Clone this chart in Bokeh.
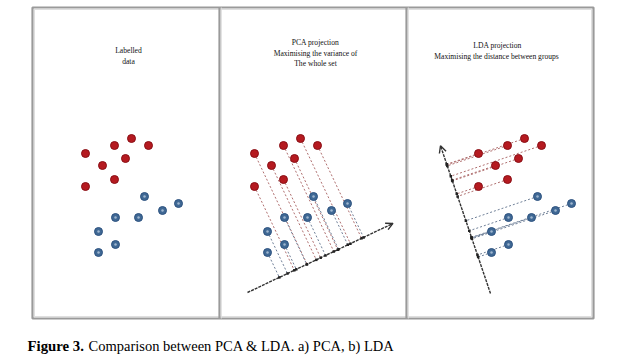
import numpy as np
from bokeh.plotting import figure
from bokeh.models import Range1d, Arrow, OpenHead
from bokeh.core.properties import value
from bokeh.embed import file_html
from bokeh.resources import INLINE

# Two labelled groups of samples (feature 1, feature 2)
red_x = [0.5, 3.4, 5.1, 6.8, 2.2, 4.5, 3.4, 0.5]
red_y = [10.7, 11.5, 12.2, 11.5, 9.5, 10.2, 8.1, 7.4]
blue_x = [6.4, 9.8, 8.2, 5.8, 3.5, 1.8, 3.5, 1.8]
blue_y = [6.4, 5.7, 5.0, 4.3, 4.3, 2.9, 1.6, 0.8]

# Projection directions (degrees) and axis anchors / lengths
pca_angle = 25.4
pca_origin = (-0.2, -3.2)
pca_length = 16.1
lda_angle = 108.7
lda_origin = (1.7, -3.3)
lda_length = 15.6

panel_titles = [
    ["Labelled", "data"],
    ["PCA projection", "Maximising the variance of", "The whole set"],
    ["LDA projection", "Maximising  the distance between groups"],
]
caption_bold = "Figure 3."
caption_rest = "Comparison between PCA & LDA. a) PCA, b) LDA"

W, H = 632, 358
SERIF = value("Liberation Serif")

p = figure(width=W, height=H, output_backend="svg", toolbar_location=None,
           x_range=Range1d(0, W / 10), y_range=Range1d(26.0 - H / 10, 26.0),
           min_border=0, background_fill_color="white",
           border_fill_color="white")
p.axis.visible = False
p.grid.visible = False
p.outline_line_color = None


def fx(px):
    return px / 10.0


def fy(py):
    return 26.0 - py / 10.0


# panel placement: left edges in px and horizontal data offsets
panel_left = [32, 219, 406]
panel_right = 593
frame_top, frame_bottom = 7, 318
offsets = [8.0, 24.9, 47.3]
title_cx = [128, 315, 497]
title_top = [50, 42, 45]

# frame and dividers
for lw, col, inset in [(2.2, "#9a9a9a", 0), (1.0, "#d8d8d8", 1.8)]:
    p.quad(left=fx(panel_left[0] + inset), right=fx(panel_right - inset),
           top=fy(frame_top + inset), bottom=fy(frame_bottom - inset),
           fill_color=None, line_color=col, line_width=lw)
for xd in panel_left[1:]:
    p.segment(x0=fx(xd), x1=fx(xd), y0=fy(frame_top), y1=fy(frame_bottom),
              line_color="#9a9a9a", line_width=2.2)
    p.segment(x0=fx(xd + 1.8), x1=fx(xd + 1.8), y0=fy(frame_top), y1=fy(frame_bottom),
              line_color="#dcdcdc", line_width=1)

# titles inside panels
for i, lines in enumerate(panel_titles):
    ys = [fy(title_top[i] + k * 10.5) for k in range(len(lines))]
    p.text(x=[fx(title_cx[i])] * len(lines), y=ys, text=lines,
           text_font=SERIF, text_font_size="7.6px", text_color="#111111",
           text_align="center", text_baseline="middle")

rx, ry = np.array(red_x), np.array(red_y)
bx, by = np.array(blue_x), np.array(blue_y)


def project(xs, ys, origin, angle):
    u = np.array([np.cos(np.radians(angle)), np.sin(np.radians(angle))])
    t = (xs - origin[0]) * u[0] + (ys - origin[1]) * u[1]
    return origin[0] + t * u[0], origin[1] + t * u[1]


def draw_axis(off, origin, angle, length):
    u = np.array([np.cos(np.radians(angle)), np.sin(np.radians(angle))])
    x0, y0 = origin[0] + off, origin[1]
    x1, y1 = x0 + length * u[0], y0 + length * u[1]
    p.segment(x0=x0, y0=y0, x1=x1, y1=y1, line_color="#333333",
              line_width=1.4, line_dash="3 1")
    p.add_layout(Arrow(end=OpenHead(size=7, line_color="#333333", line_width=1.4),
                       x_start=x1 - 0.3 * u[0], y_start=y1 - 0.3 * u[1],
                       x_end=x1, y_end=y1, line_color="#333333", line_width=1.4))


def draw_projections(off, origin, angle):
    for xs, ys, col in [(rx, ry, "#b07070"), (bx, by, "#708098")]:
        fxs, fys = project(xs, ys, origin, angle)
        p.segment(x0=xs + off, y0=ys, x1=fxs + off, y1=fys, line_color=col,
                  line_width=1, line_dash="2 2")
        p.scatter(x=fxs + off, y=fys, marker="square", size=2.5,
                  fill_color="#222222", line_color=None)


draw_axis(offsets[1], pca_origin, pca_angle, pca_length)
draw_projections(offsets[1], pca_origin, pca_angle)
draw_axis(offsets[2], lda_origin, lda_angle, lda_length)
draw_projections(offsets[2], lda_origin, lda_angle)

# the labelled samples in each panel
for off in offsets:
    p.scatter(x=rx + off, y=ry, size=8, fill_color="#b51a20",
              line_color="#8a1016", line_width=1)
    p.scatter(x=bx + off, y=by, size=8, fill_color="#3f6894",
              line_color="#2e5380", line_width=1)
    p.scatter(x=bx + off, y=by, size=2.5, fill_color="#9fb6cf", line_color=None)

# caption
p.text(x=[fx(27)], y=[fy(345)], text=[caption_bold], text_font=SERIF,
       text_font_style="bold", text_font_size="14.8px", text_color="black",
       text_baseline="alphabetic")
p.text(x=[fx(88)], y=[fy(345)], text=[caption_rest], text_font=SERIF,
       text_font_size="14.5px", text_color="black", text_baseline="alphabetic")

open("out.html", "w").write(file_html(p, INLINE))
